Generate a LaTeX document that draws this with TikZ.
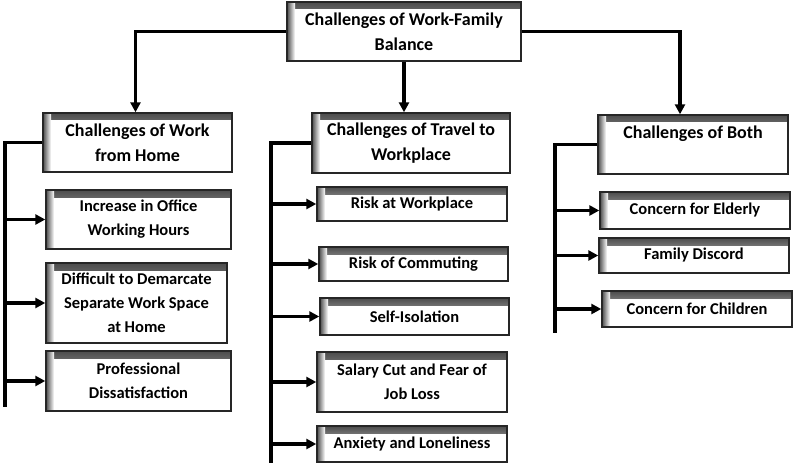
\documentclass[tikz,border=0pt]{standalone}
\usepackage{fontspec}
\setmainfont{Carlito}
\usetikzlibrary{arrows.meta}

\begin{document}
\begin{tikzpicture}[x=1pt,y=-1pt,
  box/.style={draw=black!85,line width=1.4pt,align=center,inner sep=2pt,
    font=\fontsize{16.5}{24}\selectfont\bfseries,
    path picture={
      \shade[top color=black!70,bottom color=white]
        (path picture bounding box.north west) rectangle ([yshift=-7pt]path picture bounding box.north east);
      \shade[left color=black!70,right color=white]
        (path picture bounding box.north west) rectangle ([xshift=8pt]path picture bounding box.south west);
    }},
  head/.style={box,font=\fontsize{18}{25}\selectfont\bfseries},
  link/.style={line width=3.2pt},
  arr/.style={link,-{Triangle[length=10pt,width=10pt]}}]
\useasboundingbox (0,0) rectangle (794,465);

% main boxes
\node[head,minimum width=234pt,minimum height=59pt] (top) at (404,31.5) {Challenges of Work-Family\\Balance};
\node[head,minimum width=189pt,minimum height=59pt] (home) at (137.5,142.5) {Challenges of Work\\from Home};
\node[head,minimum width=198pt,minimum height=60pt] (travel) at (411,143) {Challenges of Travel to\\Workplace};
\node[head,minimum width=190pt,minimum height=59pt] (both) at (693,144.5) {Challenges of Both\\~};

\draw[arr] (top.west) -| ([xshift=-2pt]home.north);
\draw[arr] (top.south) -- (top.south |- travel.north);
\draw[arr] (top.east) -| ([xshift=-13pt]both.north);

% sub boxes
\foreach \n/\x/\y/\w/\h/\t in {
  h1/138.5/219.5/185/59/{Increase in Office\\Working Hours},
  h2/136.5/303/181/80/{Difficult to Demarcate\\Separate Work Space\\at Home},
  h3/138.5/381/185/60/{Professional\\Dissatisfaction},
  t1/412/204/190/34/{Risk at Workplace},
  t2/413.5/264/189/34/{Risk of Commuting},
  t3/414.5/316.5/189/37/{Self-Isolation},
  t4/412/382/190/60/{Salary Cut and Fear of\\Job Loss},
  t5/412/444/190/36/{Anxiety and Loneliness},
  b1/695/210.5/190/37/{Concern for Elderly},
  b2/694/255.5/190/35/{Family Discord},
  b3/697/309/190/36/{Concern for Children}}{
  \node[box,minimum width=\w pt,minimum height=\h pt] (\n) at (\x,\y) {\t};
}

% spines
\coordinate (homeend) at (5,407);
\coordinate (travelend) at (271,463);
\coordinate (bothend) at (555,333);
\draw[link] (home.west) -| (homeend);
\draw[link] (travel.west) -| (travelend);
\draw[link] (both.west) -| (bothend);

\foreach \n in {h1,h2,h3}
  \draw[arr] (homeend |- \n.west) -- (\n.west);
\foreach \n in {t1,t2,t3,t4,t5}
  \draw[arr] (travelend |- \n.west) -- (\n.west);
\foreach \n in {b1,b2,b3}
  \draw[arr] (bothend |- \n.west) -- (\n.west);
\end{tikzpicture}
\end{document}
